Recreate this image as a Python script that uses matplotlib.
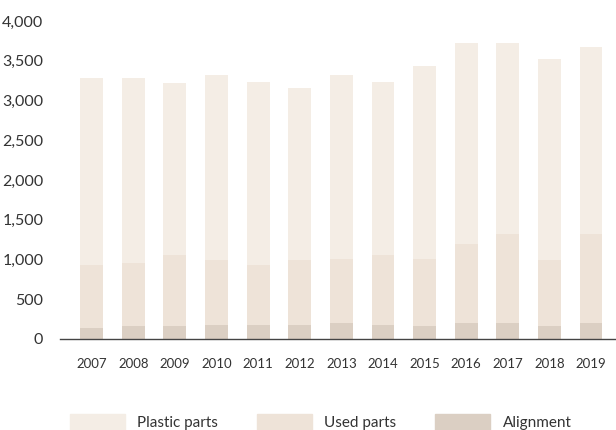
import numpy as np
import matplotlib.pyplot as plt
from matplotlib.patches import Patch

plt.rcParams['font.family'] = ['Lato', 'DejaVu Sans']

years = ['2007', '2008', '2009', '2010', '2011', '2012', '2013',
         '2014', '2015', '2016', '2017', '2018', '2019']
# values (stack segments)
alignment = [142, 167, 167, 176, 176, 176, 201, 176, 167, 197, 201, 167, 201]
used_top = [931, 960, 1057, 994, 931, 994, 1006, 1057, 1006, 1199, 1321, 994, 1321]
totals = [3283, 3283, 3220, 3320, 3232, 3157, 3320, 3232, 3434, 3723, 3723, 3522, 3673]

used = np.array(used_top) - np.array(alignment)
plastic = np.array(totals) - np.array(used_top)

c_plastic = '#F4EDE5'
c_used = '#EEE3D8'
c_align = '#DBCFC3'
txt = '#333333'

fig = plt.figure(figsize=(6.16, 4.30), dpi=100)
ax = fig.add_axes([60 / 616, (430 - 339) / 430, 556 / 616, 318 / 430])

x = np.arange(len(years))
w = 0.55
ax.bar(x, alignment, w, color=c_align, label='Alignment')
ax.bar(x, used, w, bottom=alignment, color=c_used, label='Used parts')
ax.bar(x, plastic, w, bottom=used_top, color=c_plastic, label='Plastic parts')

ax.set_ylim(0, 4000)
ax.set_xlim(-0.76, 12.6)
ax.set_yticks(np.arange(0, 4001, 500))
ax.set_yticklabels([f'{v:,}' for v in range(0, 4001, 500)])
ax.set_xticks(x)
ax.set_xticklabels(years)
ax.tick_params(axis='y', length=0, labelsize=11.5, colors=txt, pad=12)
ax.tick_params(axis='x', length=0, labelsize=9.5, colors=txt, pad=14)
for s in ['top', 'right', 'left']:
    ax.spines[s].set_visible(False)
ax.spines['bottom'].set_color('#444444')
ax.spines['bottom'].set_linewidth(1.0)

handles = [Patch(color=c_plastic), Patch(color=c_used), Patch(color=c_align)]
fig.legend(handles, ['Plastic parts', 'Used parts', 'Alignment'],
           loc='upper left', bbox_to_anchor=(70 / 616, 1 - 414 / 430),
           ncol=3, frameon=False, fontsize=11, borderpad=0, borderaxespad=0,
           handlelength=3.6, handleheight=1.2, handletextpad=0.8,
           columnspacing=2.55, labelcolor=txt)

fig.savefig('out.png', dpi=100)
